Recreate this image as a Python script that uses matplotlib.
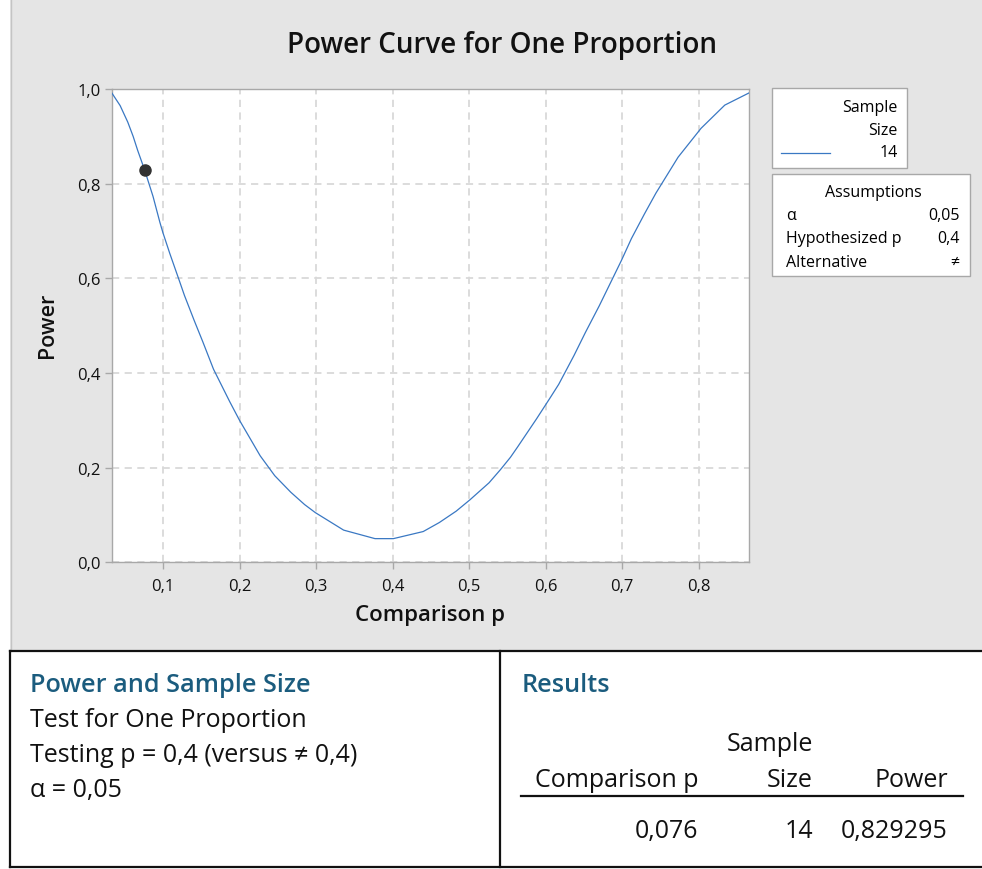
import matplotlib
matplotlib.use("Agg")
import matplotlib.pyplot as plt
from matplotlib.patches import Rectangle
from matplotlib.lines import Line2D

plt.rcParams['font.family'] = ['Open Sans', 'DejaVu Sans']

# ---------------- data ----------------
comparison_p = [0.033, 0.044, 0.054, 0.061, 0.067, 0.076, 0.087, 0.096, 0.100, 0.109,
                0.122, 0.128, 0.141, 0.152, 0.166, 0.187, 0.200, 0.227, 0.246, 0.267,
                0.285, 0.299, 0.336, 0.377, 0.401, 0.440, 0.461, 0.483, 0.501, 0.526,
                0.541, 0.554, 0.563, 0.588, 0.606, 0.617, 0.637, 0.652, 0.670, 0.699,
                0.712, 0.729, 0.744, 0.773, 0.803, 0.834, 0.866]
power = [0.992, 0.965, 0.930, 0.900, 0.870, 0.829, 0.773, 0.718, 0.696, 0.652,
         0.592, 0.564, 0.510, 0.466, 0.408, 0.340, 0.300, 0.225, 0.183, 0.148,
         0.122, 0.105, 0.068, 0.050, 0.050, 0.065, 0.084, 0.108, 0.132, 0.168,
         0.196, 0.222, 0.243, 0.303, 0.348, 0.376, 0.437, 0.486, 0.542, 0.638,
         0.684, 0.736, 0.780, 0.856, 0.917, 0.966, 0.992]
result_p = 0.076
result_power = 0.829295
sample_size = 14

x_ticks = [0.1, 0.2, 0.3, 0.4, 0.5, 0.6, 0.7, 0.8]
x_tick_labels = ["0,1", "0,2", "0,3", "0,4", "0,5", "0,6", "0,7", "0,8"]
y_ticks = [0.0, 0.2, 0.4, 0.6, 0.8, 1.0]
y_tick_labels = ["0,0", "0,2", "0,4", "0,6", "0,8", "1,0"]

assumption_names = ["α", "Hypothesized p", "Alternative"]
assumption_values = ["0,05", "0,4", "≠"]

info_lines = ["Test for One Proportion", "Testing p = 0,4 (versus ≠ 0,4)", "α = 0,05"]
result_headers = ["Comparison p", "Size", "Power"]
result_values = ["0,076", "14", "0,829295"]

# ---------------- figure ----------------
W, H = 982, 870
fig = plt.figure(figsize=(W / 100, H / 100), dpi=100, facecolor="white")

def fx(x):
    return x / W

def fy(y):
    return 1 - y / H

BG = "#e5e5e5"
fig.add_artist(Rectangle((fx(10), fy(652)), fx(W + 5) - fx(10), fy(0) - fy(652) + 0.01,
                         transform=fig.transFigure, facecolor=BG, edgecolor="none", zorder=0))
fig.add_artist(Line2D([fx(10.5), fx(10.5)], [fy(0), fy(652)], transform=fig.transFigure,
                      color="#c4c4c4", lw=1.0, zorder=1))

# axes
L, R, T, B = 111.7, 749.3, 90.0, 563.3
ax = fig.add_axes([fx(L), fy(B), (R - L) / W, (B - T) / H])
ax.set_facecolor("white")
ax.plot(comparison_p, power, color="#3a78c3", lw=0.9, zorder=3)
ax.plot([result_p], [result_power], "o", color="#323232", markersize=8, zorder=4)
ax.set_xlim(0.033, 0.866)
ax.set_ylim(0.0, 1.0)
ax.set_xticks(x_ticks)
ax.set_xticklabels(x_tick_labels)
ax.set_yticks(y_ticks)
ax.set_yticklabels(y_tick_labels)
ax.grid(True, color="#d9d9d9", lw=1.3, linestyle=(0, (4, 3)), zorder=1)
for s in ax.spines.values():
    s.set_color("#a8a8a8")
    s.set_linewidth(1.0)
ax.tick_params(axis="both", direction="out", length=5, width=1.0, color="#a8a8a8",
               labelsize=12, labelcolor="#111111", pad=3)
ax.tick_params(axis="x", pad=6)
ax.set_xlabel("Comparison p", fontsize=16, fontweight="semibold", color="#111111")
ax.xaxis.set_label_coords(0.5, -0.089)
ax.set_ylabel("Power", fontsize=15.5, fontweight="semibold", color="#111111")
ax.yaxis.set_label_coords(-0.084, 0.503)

fig.text(fx(502), fy(53.5), "Power Curve for One Proportion", ha="center", va="baseline",
         fontsize=20, fontweight="semibold", color="#111111")

LFS = 11.5
# legend box 1: sample size
fig.add_artist(Rectangle((fx(772.3), fy(169.3)), fx(906.7) - fx(772.3), fy(89) - fy(169.3),
                         transform=fig.transFigure, facecolor="white", edgecolor="#a8a8a8",
                         lw=1.0, zorder=2))
fig.text(fx(897.3), fy(111.7), "Sample", ha="right", va="baseline", fontsize=LFS, zorder=3)
fig.text(fx(897.3), fy(135), "Size", ha="right", va="baseline", fontsize=LFS, zorder=3)
fig.text(fx(897.3), fy(157.3), str(sample_size), ha="right", va="baseline", fontsize=LFS, zorder=3)
fig.add_artist(Line2D([fx(780.7), fx(830)], [fy(154), fy(154)], transform=fig.transFigure,
                      color="#3a78c3", lw=0.9, zorder=3))

# legend box 2: assumptions
fig.add_artist(Rectangle((fx(772.3), fy(277.3)), fx(970) - fx(772.3), fy(175) - fy(277.3),
                         transform=fig.transFigure, facecolor="white", edgecolor="#a8a8a8",
                         lw=1.0, zorder=2))
fig.text(fx(873), fy(196.7), "Assumptions", ha="center", va="baseline", fontsize=LFS, zorder=3)
for i, (nm, val) in enumerate(zip(assumption_names, assumption_values)):
    yb = 220 + i * 23.3
    fig.text(fx(785.7), fy(yb), nm, ha="left", va="baseline", fontsize=LFS, zorder=3)
    fig.text(fx(959.3), fy(yb), val, ha="right", va="baseline", fontsize=LFS, zorder=3)

# ---------------- table area ----------------
for (x0, y0, x1, y1) in [(9.5, 652, 990, 652), (9.5, 868, 990, 868),
                         (9.5, 652, 9.5, 868), (500, 652, 500, 868)]:
    fig.add_artist(Line2D([fx(x0), fx(x1)], [fy(y0), fy(y1)], transform=fig.transFigure,
                          color="#111111", lw=1.6, zorder=5, solid_capstyle="projecting"))

TEAL = "#1b5c7e"
BFS = 18
fig.text(fx(30), fy(691.7), "Power and Sample Size", ha="left", va="baseline",
         fontsize=18.2, fontweight="semibold", color=TEAL)
for i, line in enumerate(info_lines):
    fig.text(fx(30), fy(726.7 + i * 35), line, ha="left", va="baseline",
             fontsize=BFS, color="#111111")

fig.text(fx(521.7), fy(691.7), "Results", ha="left", va="baseline",
         fontsize=18.2, fontweight="semibold", color=TEAL)
col_right = [698.3, 813, 948]
fig.text(fx(col_right[1]), fy(750.7), "Sample", ha="right", va="baseline",
         fontsize=BFS, color="#111111")
for xr, hd, val in zip(col_right, result_headers, result_values):
    fig.text(fx(xr), fy(786.7), hd, ha="right", va="baseline", fontsize=BFS, color="#111111")
    fig.text(fx(xr), fy(838.3), val, ha="right", va="baseline", fontsize=BFS, color="#111111")
fig.add_artist(Line2D([fx(521), fx(963)], [fy(796.7), fy(796.7)], transform=fig.transFigure,
                      color="#111111", lw=1.6, zorder=5))

fig.savefig("out.png", dpi=100, facecolor="white")
